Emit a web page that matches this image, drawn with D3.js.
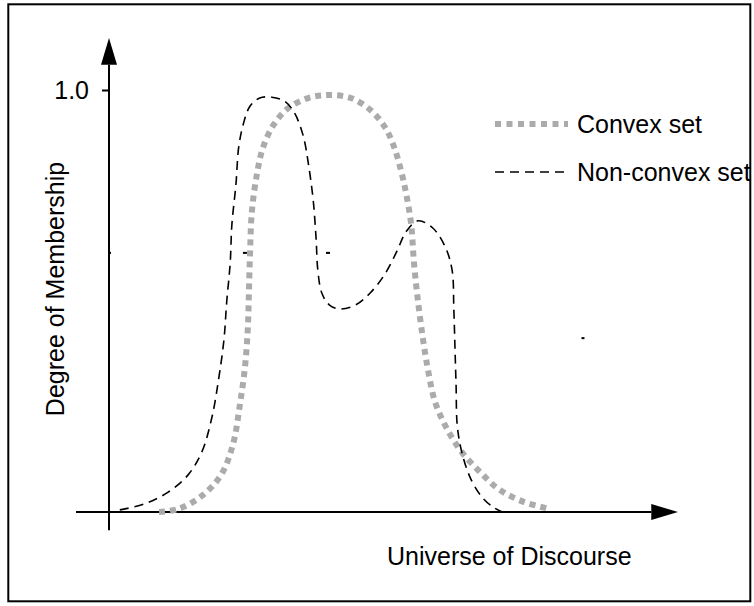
<!DOCTYPE html>
<html>
<head>
<meta charset="utf-8">
<script src="https://cdn.jsdelivr.net/npm/d3@7"></script>
<style>
  html, body { margin: 0; padding: 0; background: #fff; }
  svg text { font-family: "Liberation Sans", Arial, sans-serif; fill: #000; }
</style>
</head>
<body>
<svg id="chart" width="754" height="606"></svg>
<script>
// universe of discourse (0..100) and degree of membership (0..1)
var convexX = [8.8, 12.1, 16.3, 19.7, 21.8, 23.0, 23.9, 24.4, 24.6, 24.8, 25.1, 26.0, 27.1, 29.0, 31.5, 35.0, 38.5, 42.5, 45.9, 48.5, 50.1, 51.3, 52.2, 53.1, 53.6, 54.3, 55.2, 56.1, 57.3, 59.4, 62.0, 65.4, 68.7, 72.9, 77.5];
var convexY = [0.0, 0.007, 0.038, 0.088, 0.161, 0.254, 0.344, 0.436, 0.526, 0.618, 0.711, 0.801, 0.865, 0.919, 0.957, 0.981, 0.988, 0.981, 0.953, 0.912, 0.865, 0.810, 0.756, 0.682, 0.590, 0.500, 0.408, 0.334, 0.261, 0.197, 0.142, 0.092, 0.052, 0.024, 0.007];

var nonConvexX = [1.9, 6.2, 10.4, 13.9, 16.3, 18.1, 19.3, 20.2, 20.7, 21.3, 21.6, 22.3, 22.8, 23.6, 24.8, 26.5, 28.6, 30.8, 32.5, 34.1, 35.1, 35.9, 36.4, 36.7, 37.4, 38.7, 40.6, 43.4, 45.9, 48.5, 50.6, 52.2, 54.3, 56.9, 59.1, 60.3, 60.6, 60.8, 61.0, 61.2, 62.0, 63.6, 65.7, 67.8, 69.1];
var nonConvexY = [0.005, 0.019, 0.047, 0.088, 0.142, 0.225, 0.318, 0.408, 0.500, 0.590, 0.682, 0.775, 0.865, 0.919, 0.962, 0.981, 0.983, 0.974, 0.948, 0.893, 0.820, 0.737, 0.647, 0.573, 0.519, 0.491, 0.481, 0.491, 0.519, 0.564, 0.618, 0.664, 0.690, 0.673, 0.628, 0.573, 0.481, 0.391, 0.299, 0.206, 0.142, 0.078, 0.033, 0.009, 0.0];

var yTicks = [1.0];
var yTickLabels = ["1.0"];
var seriesNames = ["Convex set", "Non-convex set"];
// leftover specks in the original drawing
var speckX = [23.8, 38.4, 83.3];
var speckY = [0.614, 0.614, 0.412];

var svg = d3.select("#chart");

var x = d3.scaleLinear().domain([0, 100]).range([109, 678]);
var y = d3.scaleLinear().domain([0, 1]).range([512, 90]);

// frame
svg.append("rect").attr("x", 8.3).attr("y", 4.3).attr("width", 742).attr("height", 597)
  .attr("fill", "none").attr("stroke", "#000").attr("stroke-width", 2);

// axes
svg.append("line").attr("x1", x(0)).attr("x2", x(0)).attr("y1", y(-0.043)).attr("y2", y(1.06))
  .attr("stroke", "#000").attr("stroke-width", 2);
svg.append("path")
  .attr("d", "M" + x(0) + "," + y(1.123) + "L" + (x(0) - 8) + "," + y(1.06) + "L" + (x(0) + 8) + "," + y(1.06) + "Z")
  .attr("fill", "#000");
svg.append("line").attr("x1", x(-5.8)).attr("x2", x(95.3)).attr("y1", y(0)).attr("y2", y(0))
  .attr("stroke", "#000").attr("stroke-width", 2);
svg.append("path")
  .attr("d", "M" + x(100) + "," + y(0) + "L" + x(95.3) + "," + (y(0) - 8) + "L" + x(95.3) + "," + (y(0) + 8) + "Z")
  .attr("fill", "#000");

var yAxis = svg.append("g").attr("transform", "translate(" + x(0) + ",0)")
  .call(d3.axisLeft(y).tickValues(yTicks).tickSize(7).tickPadding(13)
    .tickFormat(function(d, i) { return yTickLabels[i]; }));
yAxis.select(".domain").remove();
yAxis.selectAll("line").attr("stroke", "#000").attr("stroke-width", 2);
yAxis.selectAll("text").attr("font-size", 25).attr("font-family", "Liberation Sans, Arial, sans-serif").attr("fill", "#000");

// specks
svg.selectAll("rect.speck").data(speckX).enter().append("rect").attr("class", "speck")
  .attr("x", function(d) { return x(d) - 1.5; })
  .attr("y", function(d, i) { return y(speckY[i]) - 1; })
  .attr("width", function(d, i) { return i < 2 ? 4 : 3; }).attr("height", 2).attr("fill", "#000");
svg.append("rect").attr("x", x(0)).attr("y", y(0.614) - 1).attr("width", 2).attr("height", 2).attr("fill", "#000");

var line = d3.line()
  .x(function(d) { return x(d[0]); })
  .y(function(d) { return y(d[1]); })
  .curve(d3.curveCatmullRom.alpha(0.5));

svg.append("path").datum(d3.zip(convexX, convexY)).attr("d", line)
  .attr("fill", "none").attr("stroke", "#ababab").attr("stroke-width", 6).attr("stroke-dasharray", "6,5");
svg.append("path").datum(d3.zip(nonConvexX, nonConvexY)).attr("d", line)
  .attr("fill", "none").attr("stroke", "#000").attr("stroke-width", 1.6).attr("stroke-dasharray", "9,6");

// legend
var legend = svg.append("g");
var legendY = [124, 172];
var legendStyle = [
  { stroke: "#ababab", width: 6, dash: "6,5.5" },
  { stroke: "#000", width: 1.6, dash: "9,6" }
];
seriesNames.forEach(function(name, i) {
  legend.append("line").attr("x1", 495).attr("x2", 568).attr("y1", legendY[i]).attr("y2", legendY[i])
    .attr("stroke", legendStyle[i].stroke).attr("stroke-width", legendStyle[i].width)
    .attr("stroke-dasharray", legendStyle[i].dash);
  legend.append("text").attr("x", 577).attr("y", legendY[i] + 9).attr("font-size", 25).text(name);
});

// axis titles
svg.append("text").attr("x", 387).attr("y", 565).attr("font-size", 25).text("Universe of Discourse");
svg.append("text").attr("transform", "translate(64,289) rotate(-90)").attr("text-anchor", "middle")
  .attr("font-size", 25).text("Degree of Membership");
</script>
</body>
</html>
